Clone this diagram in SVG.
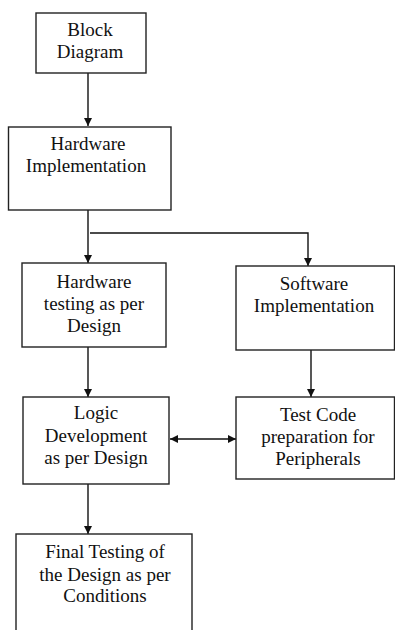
<svg xmlns="http://www.w3.org/2000/svg" width="395" height="630" viewBox="0 0 395 630">
<style>
.box{fill:#fff;stroke:#222;stroke-width:1.4}
.t{font-size:19px;fill:#111;text-anchor:middle}
.c{stroke:#111;stroke-width:1.4;fill:none}
</style>
<defs>
<marker id="ah" viewBox="0 0 10 10" refX="10" refY="5" markerWidth="8" markerHeight="8" markerUnits="userSpaceOnUse" orient="auto-start-reverse">
<path d="M0,0 L10,5 L0,10 z" fill="#111"/>
</marker>
</defs>
<rect width="395" height="630" fill="#fff"/>
<g font-family="Liberation Serif, Times New Roman, serif">
<text class="t" x="51" y="-4">g</text>
</g>
<g id="connectors">
<line class="c" x1="88" y1="73" x2="88" y2="126" marker-end="url(#ah)"/>
<line class="c" x1="88" y1="210" x2="88" y2="263" marker-end="url(#ah)"/>
<polyline class="c" points="90,233 308,233 308,266" marker-end="url(#ah)"/>
<line class="c" x1="88" y1="347" x2="88" y2="397" marker-end="url(#ah)"/>
<line class="c" x1="311" y1="350" x2="311" y2="397" marker-end="url(#ah)"/>
<line class="c" x1="170" y1="439" x2="236" y2="439" marker-start="url(#ah)" marker-end="url(#ah)"/>
<line class="c" x1="88" y1="484" x2="88" y2="534" marker-end="url(#ah)"/>
</g>
<g font-family="Liberation Serif, Times New Roman, serif">
<g id="block-diagram">
<rect class="box" x="36" y="13" width="110" height="60"/>
<text class="t" x="90" y="36">Block</text>
<text class="t" x="90" y="58">Diagram</text>
</g>
<g id="hardware-implementation">
<rect class="box" x="8.5" y="127" width="162.5" height="83"/>
<text class="t" x="88" y="150">Hardware</text>
<text class="t" x="86" y="172">Implementation</text>
</g>
<g id="hardware-testing">
<rect class="box" x="22" y="263" width="144" height="84"/>
<text class="t" x="94" y="288">Hardware</text>
<text class="t" x="94" y="310">testing as per</text>
<text class="t" x="94" y="332">Design</text>
</g>
<g id="software-implementation">
<rect class="box" x="236" y="266" width="158.5" height="84"/>
<text class="t" x="314" y="290">Software</text>
<text class="t" x="314" y="312">Implementation</text>
</g>
<g id="logic-development">
<rect class="box" x="23" y="397" width="146" height="87"/>
<text class="t" x="96" y="419">Logic</text>
<text class="t" x="96" y="442">Development</text>
<text class="t" x="96" y="464">as per Design</text>
</g>
<g id="test-code">
<rect class="box" x="236" y="397" width="158.5" height="82"/>
<text class="t" x="318" y="421">Test Code</text>
<text class="t" x="318" y="443">preparation for</text>
<text class="t" x="318" y="465">Peripherals</text>
</g>
<g id="final-testing">
<rect class="box" x="16" y="534" width="176" height="110"/>
<text class="t" x="105" y="558">Final Testing of</text>
<text class="t" x="105" y="581">the Design as per</text>
<text class="t" x="105" y="602">Conditions</text>
</g>
</g>
</svg>
